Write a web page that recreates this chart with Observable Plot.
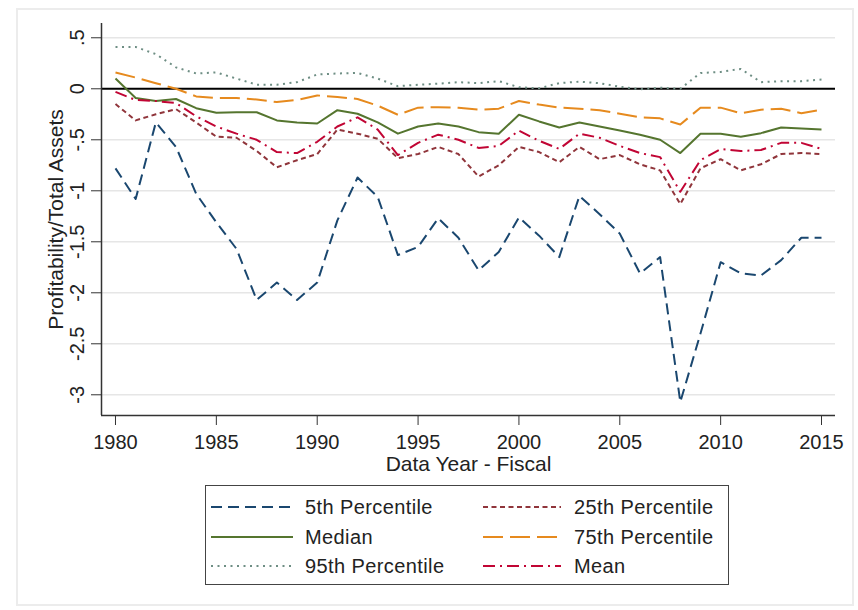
<!DOCTYPE html>
<html><head><meta charset="utf-8">
<script src="https://cdn.jsdelivr.net/npm/d3@7"></script>
<script src="https://cdn.jsdelivr.net/npm/@observablehq/plot@0.6"></script>
<style>
body{margin:0;background:#fff;font-family:"Liberation Sans",Arial,sans-serif;}
#wrap{position:relative;width:858px;height:610px;overflow:hidden;background:#fff;}
#border{position:absolute;left:16px;top:8px;width:834px;height:594px;border:2px solid #ececec;}
#chart{position:absolute;left:0;top:0;}
#legend{position:absolute;left:205px;top:485px;width:522px;height:98px;border:1px solid #444;background:#fff;}
.item{position:absolute;height:26px;display:flex;align-items:center;font-size:20px;letter-spacing:0.4px;color:#222;white-space:nowrap;}
</style></head><body>
<div id="wrap"><div id="border"></div><div id="chart"></div><div id="legend"></div></div>
<script>
const years = [1980,1981,1982,1983,1984,1985,1986,1987,1988,1989,1990,1991,1992,1993,1994,1995,1996,1997,1998,1999,2000,2001,2002,2003,2004,2005,2006,2007,2008,2009,2010,2011,2012,2013,2014,2015];
const p5 = [-0.78,-1.08,-0.33,-0.57,-1.03,-1.31,-1.57,-2.07,-1.90,-2.07,-1.90,-1.29,-0.87,-1.06,-1.63,-1.55,-1.27,-1.46,-1.78,-1.60,-1.26,-1.44,-1.65,-1.05,-1.23,-1.42,-1.81,-1.65,-3.07,-2.40,-1.70,-1.81,-1.83,-1.68,-1.46,-1.46];
const p25 = [-0.15,-0.31,-0.25,-0.20,-0.33,-0.47,-0.48,-0.61,-0.77,-0.70,-0.64,-0.40,-0.44,-0.49,-0.68,-0.64,-0.57,-0.64,-0.86,-0.75,-0.57,-0.62,-0.72,-0.57,-0.69,-0.65,-0.74,-0.80,-1.13,-0.78,-0.69,-0.80,-0.74,-0.64,-0.63,-0.64];
const median = [0.10,-0.09,-0.12,-0.10,-0.19,-0.235,-0.23,-0.23,-0.31,-0.33,-0.34,-0.21,-0.245,-0.33,-0.44,-0.37,-0.34,-0.37,-0.425,-0.44,-0.255,-0.32,-0.38,-0.33,-0.37,-0.41,-0.45,-0.50,-0.63,-0.44,-0.44,-0.47,-0.435,-0.38,-0.39,-0.40];
const p75 = [0.16,0.11,0.055,0.0,-0.075,-0.09,-0.09,-0.105,-0.13,-0.11,-0.065,-0.08,-0.10,-0.165,-0.255,-0.185,-0.18,-0.185,-0.205,-0.195,-0.12,-0.155,-0.185,-0.195,-0.21,-0.245,-0.28,-0.29,-0.35,-0.185,-0.185,-0.24,-0.205,-0.195,-0.24,-0.205];
const p95 = [0.41,0.41,0.34,0.21,0.15,0.16,0.10,0.04,0.04,0.065,0.14,0.15,0.155,0.10,0.025,0.04,0.05,0.065,0.055,0.075,0.015,0.005,0.055,0.07,0.055,0.02,-0.005,0.01,0.0,0.155,0.165,0.195,0.065,0.075,0.075,0.09];
const mean = [-0.03,-0.11,-0.12,-0.14,-0.27,-0.37,-0.44,-0.50,-0.62,-0.63,-0.52,-0.37,-0.28,-0.40,-0.65,-0.53,-0.45,-0.50,-0.58,-0.56,-0.41,-0.51,-0.59,-0.44,-0.48,-0.56,-0.63,-0.67,-1.01,-0.70,-0.59,-0.61,-0.60,-0.53,-0.53,-0.59];

const seriesNames = ["5th Percentile","25th Percentile","Median","75th Percentile","95th Percentile","Mean"];
const seriesValues = [p5, p25, median, p75, p95, mean];
const seriesColors = ["#1a476f","#90353b","#55752f","#e68a1e","#6e8e84","#c10534"];
const seriesDashes = ["11,6","5,3.5",null,"20,7","2,4.5","12,5,2,5"];

const xTicks = [1980,1985,1990,1995,2000,2005,2010,2015];
const yTicks = [0.5,0,-0.5,-1,-1.5,-2,-2.5,-3];
const gridTicks = [0.5,-0.5,-1,-1.5,-2,-2.5,-3];
const xTitle = "Data Year - Fiscal";
const yTitle = "Profitability/Total Assets";

const xDomain = [1979.306, 2015.694];
const yDomain = [-3.203, 0.640];

const rows = [];
seriesNames.forEach((s, i) => years.forEach((yr, j) => rows.push({series: s, year: yr, value: seriesValues[i][j]})));

const fmtY = d => d === 0 ? "0" : String(d).replace("0.", ".");

const lineMarks = seriesNames.map((s, i) => Plot.line(rows.filter(r => r.series === s), {
  x: "year", y: "value", stroke: seriesColors[i], strokeWidth: 2,
  strokeDasharray: seriesDashes[i] || undefined, strokeLinecap: "butt", strokeLinejoin: "round"
}));

const chart = Plot.plot({
  width: 858, height: 480,
  marginLeft: 101, marginRight: 23, marginTop: 23, marginBottom: 65,
  x: {domain: xDomain},
  y: {domain: yDomain},
  style: {fontFamily: "'Liberation Sans', Arial, sans-serif", fontSize: "20px", color: "#222", background: "transparent", overflow: "visible"},
  marks: [
    Plot.gridY(gridTicks, {stroke: "#e6e6e6", strokeOpacity: 1, strokeWidth: 1.5}),
    Plot.ruleY([0], {stroke: "#000", strokeWidth: 2}),
    ...lineMarks,
    Plot.ruleX([xDomain[0]], {stroke: "#333", strokeWidth: 1.5}),
    Plot.ruleY([yDomain[0]], {stroke: "#333", strokeWidth: 1.5}),
    Plot.axisX(xTicks, {tickSize: 10, tickPadding: 9, tickFormat: d => String(d), fontSize: 20, label: null, stroke: "#333"}),
    Plot.axisY(yTicks, {tickSize: 10, tickPadding: 8, tickRotate: -90, tickFormat: fmtY, fontSize: 20, label: null, stroke: "#333"}),
    Plot.text([xTitle], {text: d => d, frameAnchor: "bottom", lineAnchor: "bottom", dy: 55, fontSize: 21, fill: "#222"}),
    Plot.text([yTitle], {text: d => d, frameAnchor: "left", textAnchor: "middle", rotate: -90, lineAnchor: "bottom", dx: -39, fontSize: 21, fill: "#222"})
  ]
});
document.getElementById("chart").appendChild(chart);

// legend
const legend = d3.select("#legend");
const rowCenters = [21, 51, 80];
const colLine = [{x: 5, w: 82}, {x: 277, w: 78}];
const colText = [99, 368];
const legendOrder = [[0, 0, 0], [1, 1, 0], [2, 0, 1], [3, 1, 1], [4, 0, 2], [5, 1, 2]];
legendOrder.forEach(([i, col, row]) => {
  const top = rowCenters[row] - 13;
  const svg = legend.append("svg").style("position", "absolute")
    .style("left", colLine[col].x + "px").style("top", top + "px")
    .attr("width", colLine[col].w).attr("height", 26);
  svg.append("line").attr("x1", 0).attr("x2", colLine[col].w).attr("y1", 13).attr("y2", 13)
    .attr("stroke", seriesColors[i]).attr("stroke-width", 2)
    .attr("stroke-dasharray", seriesDashes[i] || null);
  legend.append("div").attr("class", "item")
    .style("left", colText[col] + "px").style("top", top + "px")
    .text(seriesNames[i]);
});
</script>
</body></html>
